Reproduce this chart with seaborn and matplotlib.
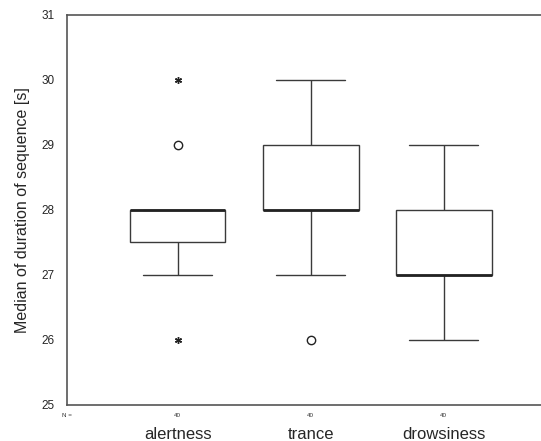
import numpy as np
import pandas as pd
import matplotlib
matplotlib.use("Agg")
import matplotlib.pyplot as plt
import seaborn as sns

# median durations per subject, as (value, count)
categories = ["alertness", "trance", "drowsiness"]
alertness_values = [26, 27, 27.5, 28, 29, 30]
alertness_counts = [1, 5, 6, 26, 1, 1]
trance_values = [26, 27, 28, 29, 30]
trance_counts = [1, 4, 19, 12, 4]
drowsiness_values = [26, 27, 28, 29]
drowsiness_counts = [4, 18, 12, 6]
y_ticks = [25, 26, 27, 28, 29, 30, 31]

groups = {
    "alertness": np.repeat(alertness_values, alertness_counts),
    "trance": np.repeat(trance_values, trance_counts),
    "drowsiness": np.repeat(drowsiness_values, drowsiness_counts),
}
df = pd.concat(
    [pd.DataFrame({"state": k, "duration": v}) for k, v in groups.items()],
    ignore_index=True,
)

sns.set_style("white")
plt.rcParams["font.family"] = ["Liberation Sans", "DejaVu Sans"]

fig = plt.figure(figsize=(5.41, 4.41), dpi=100)
ax = fig.add_axes([0.124, 0.082, 0.876, 0.884])

line_col = "#3a3a3a"
sns.boxplot(
    data=df, x="state", y="duration", order=categories, ax=ax,
    width=0.72, color="white", linecolor=line_col, linewidth=1.0,
    showfliers=False, whis=1.5,
    medianprops=dict(color="#222222", linewidth=2.0),
)

# widen the whisker caps a bit (SPSS style)
for cont in ax.containers:
    for cap in getattr(cont, "caps", []):
        xd = np.asarray(cap.get_xdata(), dtype=float)
        c = xd.mean()
        cap.set_xdata([c - 0.26, c + 0.26])

# outliers (circles) and extremes (stars), SPSS style
for i, cat in enumerate(categories):
    vals = groups[cat]
    q1, q3 = np.percentile(vals, [25, 75])
    iqr = q3 - q1
    out = np.unique(vals[(vals < q1 - 1.5 * iqr) | (vals > q3 + 1.5 * iqr)])
    for v in out:
        extreme = (v <= q1 - 3 * iqr) or (v >= q3 + 3 * iqr)
        if extreme:
            ax.plot(i, v, marker=(6, 2, 0), ms=5, color="#222222", mew=1.0)
        else:
            ax.plot(i, v, marker="o", ms=6, mfc="white", mec="#222222", mew=1.0)
    ax.text(i, -0.02, str(len(vals)), transform=ax.get_xaxis_transform(),
            ha="center", va="top", fontsize=4.5, color="#333333")
ax.text(-0.83, -0.02, "N =", transform=ax.get_xaxis_transform(),
        ha="center", va="top", fontsize=4.5, color="#333333")

ax.set_ylim(25, 31)
ax.set_xlim(-0.83, 2.73)
ax.set_yticks(y_ticks)
ax.set_yticklabels([str(t) for t in y_ticks], fontsize=8.5)
ax.set_xticks(range(len(categories)))
ax.set_xticklabels(categories, fontsize=12)
ax.tick_params(axis="x", length=3, pad=13, color=line_col)
ax.tick_params(axis="y", length=3, pad=6, color=line_col)
ax.set_xlabel("")
ax.set_ylabel("Median of duration of sequence [s]", fontsize=11.5, labelpad=8)

for side in ["left", "bottom", "top"]:
    ax.spines[side].set_color("#555555")
    ax.spines[side].set_linewidth(1.2)
ax.spines["right"].set_visible(False)

fig.savefig("out.png", dpi=100)
